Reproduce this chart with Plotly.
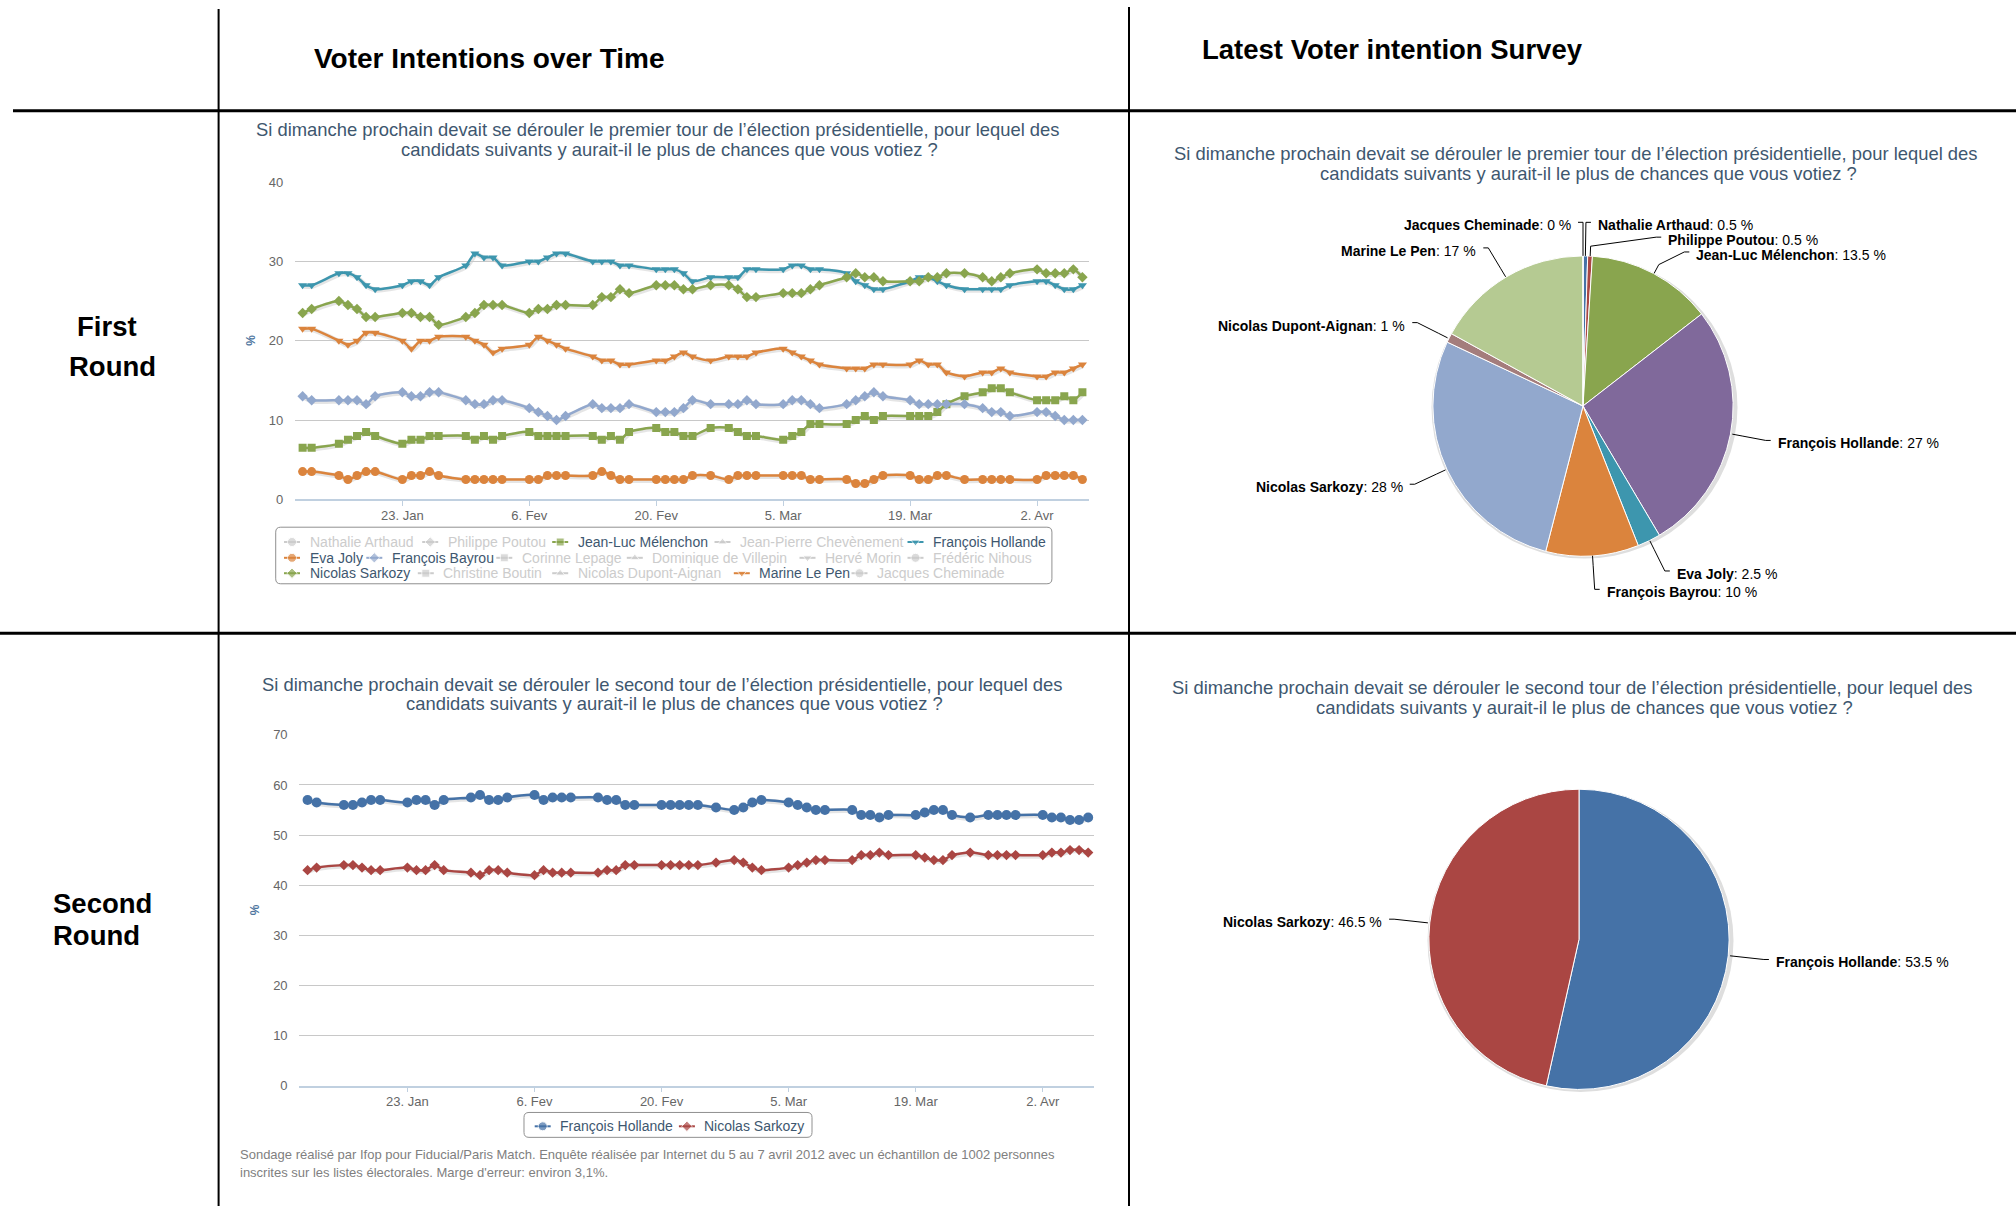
import math
import plotly.graph_objects as go

W, H = 2016, 1214

# ---------------- data ----------------
dates = [
    "2012-01-12", "2012-01-13",
    "2012-01-16", "2012-01-17", "2012-01-18", "2012-01-19", "2012-01-20",
    "2012-01-23", "2012-01-24", "2012-01-25", "2012-01-26", "2012-01-27",
    "2012-01-30", "2012-01-31", "2012-02-01", "2012-02-02", "2012-02-03",
    "2012-02-06", "2012-02-07", "2012-02-08", "2012-02-09", "2012-02-10",
    "2012-02-13", "2012-02-14", "2012-02-15", "2012-02-16", "2012-02-17",
    "2012-02-20", "2012-02-21", "2012-02-22", "2012-02-23", "2012-02-24",
    "2012-02-26", "2012-02-28", "2012-02-29", "2012-03-01", "2012-03-02",
    "2012-03-05", "2012-03-06", "2012-03-07", "2012-03-08", "2012-03-09",
    "2012-03-12", "2012-03-13", "2012-03-14", "2012-03-15", "2012-03-16",
    "2012-03-19", "2012-03-20", "2012-03-21", "2012-03-22", "2012-03-23",
    "2012-03-25", "2012-03-27", "2012-03-28", "2012-03-29", "2012-03-30",
    "2012-04-02", "2012-04-03", "2012-04-04", "2012-04-05", "2012-04-06", "2012-04-07",
]

hollande_r1 = [27, 27, 28.5, 28.5, 28, 27, 26.5, 27, 27.5, 27.5, 27, 28,
               29.5, 31, 30.5, 30.5, 29.5, 30, 30, 30.5, 31, 31,
               30, 30, 30, 29.5, 29.5, 29, 29, 29, 28.5, 27.5,
               28, 28, 28, 29, 29, 29, 29.5, 29.5, 29, 29,
               28.5, 27.5, 27, 26.5, 26.5, 27.5, 28, 28, 27.5, 27,
               26.5, 26.5, 26.5, 26.5, 27, 27.5, 27.5, 27, 26.5, 26.5, 27]
sarkozy_r1 = [23.5, 24, 25, 24.5, 24, 23, 23, 23.5, 23.5, 23, 23, 22,
              23, 23.5, 24.5, 24.5, 24.5, 23.5, 24, 24, 24.5, 24.5,
              24.5, 25.5, 25.5, 26.5, 26, 27, 27, 27, 26.5, 26.5,
              27, 27, 26.5, 25.5, 25.5, 26, 26, 26, 26.5, 27,
              28, 28.5, 28, 28, 27.5, 27.5, 27.5, 28, 28, 28.5,
              28.5, 28, 27.5, 28, 28.5, 29, 28.5, 28.5, 28.5, 29, 28]
lepen_r1 = [21.5, 21.5, 20, 19.5, 20, 21, 21, 20, 19, 20, 20, 20.5,
            20.5, 20, 19.5, 18.5, 19, 19.5, 20.5, 20, 19.5, 19,
            18, 17.5, 17.5, 17, 17, 17.5, 17.5, 18, 18.5, 18,
            17.5, 18, 18, 18, 18.5, 19, 18.5, 18, 17.5, 17,
            16.5, 16.5, 16.5, 17, 17, 17, 17.5, 17, 17, 16,
            15.5, 16, 16, 16.5, 16, 15.5, 15.5, 16, 16, 16.5, 17]
bayrou_r1 = [13, 12.5, 12.5, 12.5, 12.5, 12, 13, 13.5, 13, 13, 13.5, 13.5,
             12.5, 12, 12, 12.5, 12.5, 11.5, 11, 10.5, 10, 10.5,
             12, 11.5, 11.5, 11.5, 12, 11, 11, 11, 11.5, 12.5,
             12, 12, 12, 12.5, 12, 12, 12.5, 12.5, 12, 11.5,
             12, 12.5, 13, 13.5, 13, 12.5, 12, 12, 12, 12,
             12, 11.5, 11, 11, 10.5, 11, 11, 10.5, 10, 10, 10]
melenchon_r1 = [6.5, 6.5, 7, 7.5, 8, 8.5, 8, 7, 7.5, 7.5, 8, 8,
                8, 7.5, 8, 7.5, 8, 8.5, 8, 8, 8, 8,
                8, 7.5, 8, 7.5, 8.5, 9, 8.5, 8.5, 8, 8,
                9, 9, 8.5, 8, 8, 7.5, 8, 8.5, 9.5, 9.5,
                9.5, 10, 10.5, 10, 10.5, 10.5, 10.5, 10.5, 11, 12,
                13, 13.5, 14, 14, 13.5, 12.5, 12.5, 12.5, 13, 12.5, 13.5]
joly_r1 = [3.5, 3.5, 3, 2.5, 3, 3.5, 3.5, 2.5, 3, 3, 3.5, 3,
           2.5, 2.5, 2.5, 2.5, 2.5, 2.5, 2.5, 3, 3, 3,
           3, 3.5, 3, 2.5, 2.5, 2.5, 2.5, 2.5, 2.5, 3,
           3, 2.5, 3, 3, 3, 3, 3, 3, 2.5, 2.5,
           2.5, 2, 2, 2.5, 3, 3, 2.5, 2.5, 3, 3,
           2.5, 2.5, 2.5, 2.5, 2.5, 2.5, 3, 3, 3, 3, 2.5]

hollande_r2 = [57, 56.5, 56, 56, 56.5, 57, 57, 56.5, 57, 57, 56, 57,
               57.5, 58, 57, 57, 57.5, 58, 57, 57.5, 57.5, 57.5,
               57.5, 57, 57, 56, 56, 56, 56, 56, 56, 56,
               55.5, 55, 55.5, 56.5, 57, 56.5, 56, 55.5, 55, 55,
               55, 54, 54, 53.5, 54, 54, 54.5, 55, 55, 54,
               53.5, 54, 54, 54, 54, 54, 53.5, 53.5, 53, 53, 53.5]
sarkozy_r2 = [43, 43.5, 44, 44, 43.5, 43, 43, 43.5, 43, 43, 44, 43,
              42.5, 42, 43, 43, 42.5, 42, 43, 42.5, 42.5, 42.5,
              42.5, 43, 43, 44, 44, 44, 44, 44, 44, 44,
              44.5, 45, 44.5, 43.5, 43, 43.5, 44, 44.5, 45, 45,
              45, 46, 46, 46.5, 46, 46, 45.5, 45, 45, 46,
              46.5, 46, 46, 46, 46, 46, 46.5, 46.5, 47, 47, 46.5]

tick_dates = ["2012-01-23", "2012-02-06", "2012-02-20", "2012-03-05", "2012-03-19", "2012-04-02"]
tick_labels = ["23. Jan", "6. Fev", "20. Fev", "5. Mar", "19. Mar", "2. Avr"]

candidates_r1 = ["Nathalie Arthaud", "Philippe Poutou", "Jean-Luc Mélenchon", "Jean-Pierre Chevènement",
                 "François Hollande", "Eva Joly", "François Bayrou", "Corinne Lepage",
                 "Dominique de Villepin", "Hervé Morin", "Frédéric Nihous", "Nicolas Sarkozy",
                 "Christine Boutin", "Nicolas Dupont-Aignan", "Marine Le Pen", "Jacques Cheminade"]
series_r1 = {
    "Jean-Luc Mélenchon": melenchon_r1,
    "François Hollande": hollande_r1,
    "Eva Joly": joly_r1,
    "François Bayrou": bayrou_r1,
    "Nicolas Sarkozy": sarkozy_r1,
    "Marine Le Pen": lepen_r1,
}
candidates_r2 = ["François Hollande", "Nicolas Sarkozy"]
series_r2 = [hollande_r2, sarkozy_r2]

pie1_names = ["Nathalie Arthaud", "Philippe Poutou", "Jean-Luc Mélenchon", "François Hollande", "Eva Joly",
              "François Bayrou", "Nicolas Sarkozy", "Nicolas Dupont-Aignan", "Marine Le Pen", "Jacques Cheminade"]
pie1_values = [0.5, 0.5, 13.5, 27, 2.5, 10, 28, 1, 17, 0]
pie2_names = ["François Hollande", "Nicolas Sarkozy"]
pie2_values = [53.5, 46.5]

q_round1 = ["Si dimanche prochain devait se dérouler le premier tour de l’élection présidentielle, pour lequel des",
            "candidats suivants y aurait-il le plus de chances que vous votiez ?"]
q_round2 = ["Si dimanche prochain devait se dérouler le second tour de l’élection présidentielle, pour lequel des",
            "candidats suivants y aurait-il le plus de chances que vous votiez ?"]
footnote = ["Sondage réalisé par Ifop pour Fiducial/Paris Match. Enquête réalisée par Internet du 5 au 7 avril 2012 avec un échantillon de 1002 personnes",
            "inscrites sur les listes électorales. Marge d'erreur: environ 3,1%."]

# ---------------- styles / layout ----------------
FONT = "Liberation Sans, Arial, sans-serif"
TITLE_COLOR = "#3E576F"
HC_COLORS = ["#4572A7", "#AA4643", "#89A54E", "#80699B", "#3D96AE", "#DB843D", "#92A8CD", "#A47D7C", "#B5CA92"]
HC_SYMBOLS = ["circle", "diamond", "square", "triangle-up", "triangle-down"]
SYM_SIZE = {"circle": 9, "diamond": 8, "square": 8, "triangle-up": 8, "triangle-down": 8}
HIDDEN = "#CCCCCC"
SHADOW = "rgba(0,0,0,0.10)"
TITLE_SIZE = 18.4
LEGEND_SIZE = 14
LABEL_SIZE = 14

# plot areas in page pixels (left, right, top, bottom)
P1 = (294.9, 1089.3, 177.3, 498.5)
P2 = (299.2, 1093.8, 737.0, 1092.0)
PIE1 = (1583.0, 404.0, 152.0)
PIE2 = (1579.0, 944.0, 152.0)
X1_RANGE = ["2012-01-11 03:36:00", "2012-04-07 18:14:00"]
X2_RANGE = ["2012-01-11 01:55:00", "2012-04-07 14:53:00"]

# legend entries: text start x, row centre y (page pixels)
legend_r1_pos = [(307.5, 541.7), (445.7, 541.7), (575.7, 541.7), (738.0, 541.7), (931.0, 541.7),
                 (307.5, 557.7), (389.8, 557.7), (519.8, 557.7), (650.3, 557.7), (823.0, 557.7), (931.0, 557.7),
                 (307.5, 573.3), (441.3, 573.3), (575.7, 573.3), (757.3, 573.3), (875.0, 573.3)]
legend_r2_pos = [(558.2, 1133.3), (702.4, 1133.3)]
legend_boxes = [(275.7, 526.7, 1051.9, 584.0), (524.0, 1119.3, 812.0, 1144.5)]


def px(x):
    return x / W


def py(y):
    return 1 - y / H


fig = go.Figure()
annotations = []
shapes = []


def text(x, y, s, size, color="#000000", xanchor="center", angle=0):
    annotations.append(dict(x=px(x), y=py(y), xref="paper", yref="paper", text=s, showarrow=False,
                            xanchor=xanchor, yanchor="middle", textangle=angle,
                            font=dict(family=FONT, size=size, color=color)))


def line(x0, y0, x1, y1, width, color="#000000"):
    shapes.append(dict(type="line", xref="paper", yref="paper", x0=px(x0), y0=py(y0), x1=px(x1), y1=py(y1),
                       line=dict(color=color, width=width)))


def path(points, color="#000000", width=1):
    d = "M " + " L ".join(f"{px(x):.5f},{py(y):.5f}" for x, y in points)
    shapes.append(dict(type="path", xref="paper", yref="paper", path=d, line=dict(color=color, width=width)))


def rrect(x0, y0, x1, y1, r, color="#909090"):
    P = lambda x, y: f"{px(x):.5f},{py(y):.5f}"
    d = (f"M {P(x0 + r, y0)} L {P(x1 - r, y0)} Q {P(x1, y0)} {P(x1, y0 + r)} L {P(x1, y1 - r)} "
         f"Q {P(x1, y1)} {P(x1 - r, y1)} L {P(x0 + r, y1)} Q {P(x0, y1)} {P(x0, y1 - r)} "
         f"L {P(x0, y0 + r)} Q {P(x0, y0)} {P(x0 + r, y0)} Z")
    shapes.append(dict(type="path", xref="paper", yref="paper", path=d, line=dict(color=color, width=1),
                       fillcolor="rgba(0,0,0,0)", layer="below"))


def legend_entry(name, tx, ty, color, sym, text_color):
    # short line + marker glyph drawn on the page-pixel overlay axes, label as text
    fig.add_trace(go.Scatter(x=[tx - 23.5, tx - 15.5, tx - 7.5], y=[ty, ty, ty], mode="lines+markers",
                             line=dict(color=color, width=2),
                             marker=dict(symbol=sym, color=color, size=[0, SYM_SIZE[sym], 0]),
                             xaxis="x5", yaxis="y5", showlegend=False, hoverinfo="skip"))
    text(tx, ty, name, LEGEND_SIZE, text_color, xanchor="left")


def series(x, y, name, color, sym, shadow_axes, axes, size):
    # soft drop shadow (1px down/right, via shifted twin axes), then the series itself
    fig.add_trace(go.Scatter(x=x, y=y, mode="lines", line=dict(color=SHADOW, width=5, shape="spline", smoothing=0.7),
                             xaxis=shadow_axes[0], yaxis=shadow_axes[1], showlegend=False, hoverinfo="skip"))
    fig.add_trace(go.Scatter(x=x, y=y, name=name, mode="lines+markers",
                             line=dict(color=color, width=2.5, shape="spline", smoothing=0.7),
                             marker=dict(symbol=sym, color=color, size=size),
                             xaxis=axes[0], yaxis=axes[1], showlegend=False))


# ---- first round lines ----
for i, name in enumerate(candidates_r1):
    color = HC_COLORS[i % len(HC_COLORS)]
    sym = HC_SYMBOLS[i % len(HC_SYMBOLS)]
    vals = series_r1.get(name)
    tx, ty = legend_r1_pos[i]
    if vals is None:
        legend_entry(name, tx, ty, HIDDEN, sym, HIDDEN)
    else:
        series(dates, vals, name, color, sym, ("x", "y"), ("x3", "y3"), SYM_SIZE[sym])
        legend_entry(name, tx, ty, color, sym, TITLE_COLOR)

# ---- second round lines ----
for i, name in enumerate(candidates_r2):
    color = HC_COLORS[i]
    sym = HC_SYMBOLS[i]
    tx, ty = legend_r2_pos[i]
    series(dates, series_r2[i], name, color, sym, ("x2", "y2"), ("x4", "y4"),
           SYM_SIZE[sym] + (1 if sym == "circle" else 0))
    legend_entry(name, tx, ty, color, sym, TITLE_COLOR)


# ---- pies ----
def pie_domain(p):
    cx, cy, r = p
    return dict(x=[px(cx - r), px(cx + r)], y=[py(cy + r), py(cy - r)])


fig.add_trace(go.Pie(values=pie1_values, labels=pie1_names, domain=pie_domain(PIE1), sort=False,
                     direction="clockwise", rotation=0, textinfo="none", showlegend=False,
                     marker=dict(colors=[HC_COLORS[i % len(HC_COLORS)] for i in range(len(pie1_values))],
                                 line=dict(color="white", width=1))))
fig.add_trace(go.Pie(values=pie2_values, labels=pie2_names, domain=pie_domain(PIE2), sort=False,
                     direction="clockwise", rotation=0, textinfo="none", showlegend=False,
                     marker=dict(colors=HC_COLORS[:2], line=dict(color="white", width=1))))

# page grid
line(218.6, 2, 218.6, H, 2)
line(1129, 0, 1129, H, 2)
line(13, 105, W, 105, 3)
line(0, 634, W, 634, 3)

# headers
text(312.4, 52, "<b>Voter Intentions over Time</b>", 28, xanchor="left")
text(1199.6, 43, "<b>Latest Voter intention Survey</b>", 27.5, xanchor="left")
text(107, 324, "<b>First</b>", 27.5)
text(112, 364, "<b>Round</b>", 27.5)
text(51, 908, "<b>Second</b>", 27.5, xanchor="left")
text(51, 940, "<b>Round</b>", 27.5, xanchor="left")

# chart titles
text(657.5, 124.5, q_round1[0], TITLE_SIZE, TITLE_COLOR)
text(669.5, 144.5, q_round1[1], TITLE_SIZE, TITLE_COLOR)
text(662.7, 685.5, q_round2[0], TITLE_SIZE, TITLE_COLOR)
text(674.8, 705.5, q_round2[1], TITLE_SIZE, TITLE_COLOR)
text(1576, 148, q_round1[0], TITLE_SIZE, TITLE_COLOR)
text(1588, 168.4, q_round1[1], TITLE_SIZE, TITLE_COLOR)
text(1572.5, 689.3, q_round2[0], TITLE_SIZE, TITLE_COLOR)
text(1584.7, 709.3, q_round2[1], TITLE_SIZE, TITLE_COLOR)

# axis titles
text(251, (P1[2] + P1[3]) / 2, "<b>%</b>", 12, "#4d759e", angle=-90)
text(255, (P2[2] + P2[3]) / 2, "<b>%</b>", 12, "#4d759e", angle=-90)

# footnote
text(238, 1162, footnote[0], 13, "#808080", xanchor="left")
text(238, 1180, footnote[1], 13, "#808080", xanchor="left")

# legend boxes
for b in legend_boxes:
    rrect(*b, 5)


def pie_labels(values, names, pie, dist=34, gap=15):
    cx, cy, r = pie
    R = r + dist
    total = float(sum(values))
    items = []
    cum = 0.0
    for v, n in zip(values, names):
        a = (cum + v / 2.0) / total * 2 * math.pi
        cum += v
        items.append({"name": n, "v": v, "a": a, "right": a < math.pi, "y": cy - R * math.cos(a)})
    for side in (True, False):
        grp = sorted([it for it in items if it["right"] == side], key=lambda it: it["y"])
        prev = None
        for it in grp:
            if prev is not None and it["y"] < prev + gap:
                it["y"] = prev + gap
            prev = it["y"]
    for it in items:
        dy = max(-R, min(R, it["y"] - cy))
        dx = math.sqrt(max(R * R - dy * dy, 0.0))
        s = 1 if it["right"] else -1
        xl = cx + s * dx
        a = it["a"]
        brk = (cx + (r + 10) * math.sin(a), cy - (r + 10) * math.cos(a))
        base = (cx + r * math.sin(a), cy - r * math.cos(a))
        path([(xl + s * 5, it["y"]), (xl, it["y"]), brk, base])
        text(xl + s * 10, it["y"] + 3, f"<b>{it['name']}</b>: {it['v']:g} %", LABEL_SIZE, "#000000",
             xanchor="left" if it["right"] else "right")


pie_labels(pie1_values, pie1_names, PIE1)
pie_labels(pie2_values, pie2_names, PIE2)

# soft pie shadows
for (cx, cy, r) in (PIE1, PIE2):
    shapes.append(dict(type="circle", xref="paper", yref="paper", layer="below",
                       x0=px(cx - r + 0.5), x1=px(cx + r + 2.5), y0=py(cy + r + 2.5), y1=py(cy - r + 0.5),
                       fillcolor="#dedede", line=dict(width=0)))

tickfont = dict(family=FONT, size=13, color="#666666")
xcommon = dict(type="date", tickvals=tick_dates, ticktext=tick_labels, ticks="outside", ticklen=5,
               tickcolor="#C0D0E0", showline=True, linecolor="#C0D0E0", linewidth=1.5, showgrid=False,
               zeroline=False, tickfont=tickfont, fixedrange=True, ticklabelstandoff=-2)
ycommon = dict(showgrid=True, gridcolor="#C8C8C8", gridwidth=1, zeroline=False, ticks="outside", ticklen=8,
               tickcolor="rgba(0,0,0,0)", tickfont=tickfont, showline=False, fixedrange=True, tick0=0, dtick=10)
hidden_axis = dict(visible=False, fixedrange=True)


def xdom(p, shift=0.0):
    return [px(p[0] + shift), px(p[1] + shift)]


def ydom(p, shift=0.0):
    return [py(p[3] + shift), py(p[2] + shift)]


fig.update_layout(
    width=W, height=H, margin=dict(l=0, r=0, t=0, b=0),
    paper_bgcolor="white", plot_bgcolor="rgba(0,0,0,0)",
    # shadow twins (shifted 1px right / 1px down)
    xaxis=dict(domain=xdom(P1, 1), anchor="y", type="date", range=X1_RANGE, **hidden_axis),
    yaxis=dict(domain=ydom(P1, 1), anchor="x", range=[0, 40], **hidden_axis),
    xaxis2=dict(domain=xdom(P2, 1), anchor="y2", type="date", range=X2_RANGE, **hidden_axis),
    yaxis2=dict(domain=ydom(P2, 1), anchor="x2", range=[0, 70], **hidden_axis),
    # the charts
    xaxis3=dict(domain=xdom(P1), anchor="y3", range=X1_RANGE, **xcommon),
    yaxis3=dict(domain=ydom(P1), anchor="x3", range=[0, 40], **ycommon),
    xaxis4=dict(domain=xdom(P2), anchor="y4", range=X2_RANGE, **xcommon),
    yaxis4=dict(domain=ydom(P2), anchor="x4", range=[0, 70], **ycommon),
    # overlay axes in page pixels, used only for the legend glyphs
    xaxis5=dict(domain=[0, 1], anchor="y5", range=[0, W], **hidden_axis),
    yaxis5=dict(domain=[0, 1], anchor="x5", range=[H, 0], **hidden_axis),
    annotations=annotations, shapes=shapes, hovermode="closest", showlegend=False,
)

post = (
    "document.documentElement.style.margin='0';document.body.style.margin='0';"
    "document.body.style.padding='0';document.documentElement.style.overflow='hidden';"
    "document.body.style.overflow='hidden';"
    "var gd=document.getElementById('{plot_id}');"
    "gd.style.position='fixed';gd.style.left='0px';gd.style.top='0px';"
)
fig.write_html("out.html", post_script=post, config={"displayModeBar": False})
